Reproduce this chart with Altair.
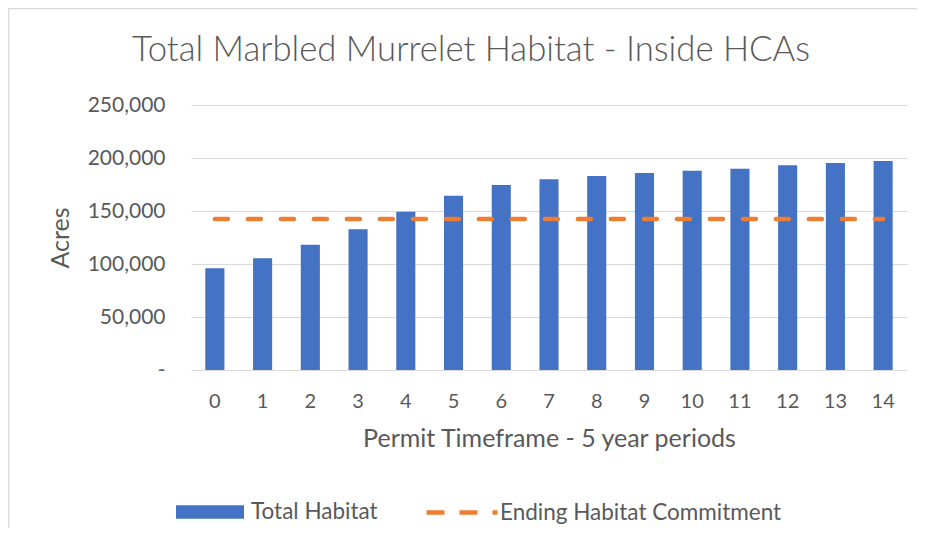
import altair as alt
import pandas as pd

periods = ["0", "1", "2", "3", "4", "5", "6", "7", "8", "9", "10", "11", "12", "13", "14"]
total_habitat = [96000, 105500, 118200, 132700, 149300, 164400, 174500, 179900,
                 183000, 185800, 188000, 189900, 193100, 195300, 197200]
ending_commitment = [142400, 142400, 142400, 142400, 142400, 142400, 142400, 142400,
                     142400, 142400, 142400, 142400, 142400, 142400, 142400]
y_ticks = [0, 50000, 100000, 150000, 200000, 250000]
series_names = ["Total Habitat", "Ending Habitat Commitment"]

df = pd.DataFrame({
    "period": periods,
    "habitat": total_habitat,
    "commitment": ending_commitment,
    "s1": series_names[0],
    "s2": series_names[1],
})

TEXT = "#595959"
GRID = "#D9D9D9"
FONT = "Lato"

x_enc = alt.X(
    "period:O", sort=None,
    scale=alt.Scale(paddingInner=0.6, paddingOuter=0.3),
    axis=alt.Axis(title="Permit Timeframe - 5 year periods", labelAngle=0, ticks=False,
                  domain=False, labelPadding=21, titlePadding=15, labelFontSize=20),
)

y_scale = alt.Scale(domain=[0, 250000], nice=False)

bars = alt.Chart(df).mark_bar().encode(
    x=x_enc,
    y=alt.Y("habitat:Q", scale=y_scale,
            axis=alt.Axis(title="Acres", values=y_ticks, grid=True, gridColor=GRID,
                          ticks=False, domain=False, labelPadding=26, titlePadding=14,
                          labelExpr="datum.value == 0 ? '-' : format(datum.value, ',')")),
    color=alt.Color("s1:N", scale=alt.Scale(domain=[series_names[0]], range=["#4472C4"]),
                    legend=alt.Legend(orient="none", legendX=-15, legendY=373, title=None,
                                      symbolType="M-1,-0.2H1V0.2H-1Z", symbolSize=4624,
                                      symbolStrokeWidth=0, symbolOpacity=1,
                                      labelOffset=7, padding=0, labelLimit=500)),
)

line = alt.Chart(df).mark_line(strokeWidth=4.5, strokeCap="round", strokeDash=[13, 20]).encode(
    x=x_enc,
    y=alt.Y("commitment:Q", scale=y_scale),
    stroke=alt.Stroke("s2:N", scale=alt.Scale(domain=[series_names[1]], range=["#ED7D31"]),
                      legend=alt.Legend(orient="none", legendX=233, legendY=369.5, title=None,
                                        symbolType="stroke", symbolSize=5041,
                                        symbolStrokeWidth=4.5, symbolDash=[18, 15],
                                        labelOffset=0, padding=0, labelLimit=500)),
)

frame_df = pd.DataFrame({"f": [0]})
frame_top = alt.Chart(frame_df).mark_rule(color=GRID, strokeWidth=1.5).encode(
    x=alt.value(-182.5), x2=alt.value(727), y=alt.value(-96.5))
frame_left = alt.Chart(frame_df).mark_rule(color=GRID, strokeWidth=1.5).encode(
    x=alt.value(-182.5), y=alt.value(-96.5), y2=alt.value(425))

chart = alt.layer(frame_top, frame_left, bars, line).resolve_scale(
    color="independent", stroke="independent"
).properties(
    width=716, height=265,
    padding={"left": 183, "top": 97, "right": 10, "bottom": 158},
    autosize=alt.AutoSizeParams(type="none"),
    title=alt.TitleParams("Total Marbled Murrelet Habitat - Inside HCAs", fontSize=34.7,
                          font=FONT, fontWeight=300, color=TEXT, anchor="middle",
                          baseline="alphabetic", dx=-78, offset=-88),
).configure_axis(
    labelFont=FONT, labelFontSize=21, labelColor=TEXT,
    titleFont=FONT, titleFontSize=25, titleFontWeight="normal", titleColor=TEXT,
).configure_legend(
    labelFont=FONT, labelFontSize=22.5, labelColor=TEXT,
).configure_view(stroke=None)

chart.save("out.html", embed_options={"renderer": "svg", "actions": False})
